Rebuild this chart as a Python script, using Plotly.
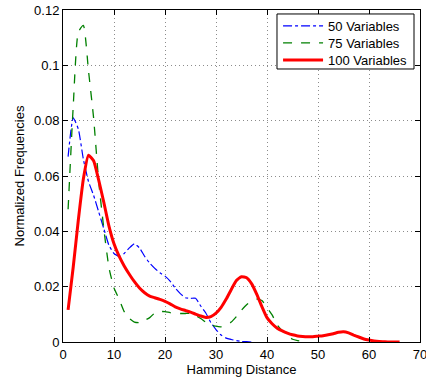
import plotly.graph_objects as go

# Data
x50 = list(range(1, 38))
y50 = [0.067, 0.081, 0.077, 0.066, 0.058, 0.053, 0.047, 0.041, 0.035, 0.032,
       0.031, 0.032, 0.034, 0.0355, 0.034, 0.031, 0.0285, 0.0266, 0.025, 0.0238,
       0.022, 0.0195, 0.0175, 0.016, 0.0158, 0.0158, 0.013, 0.0105, 0.007, 0.0045,
       0.0025, 0.0014, 0.0009, 0.0005, 0.0002, 0.0001, 0.0]

x75 = list(range(1, 49))
y75 = [0.048, 0.085, 0.112, 0.1144, 0.098, 0.081, 0.058, 0.041, 0.027, 0.0195,
       0.0155, 0.011, 0.0085, 0.0072, 0.007, 0.0078, 0.0088, 0.0105, 0.011, 0.011,
       0.0106, 0.0104, 0.0103, 0.0103, 0.0103, 0.0095, 0.0085, 0.0072, 0.0063, 0.0057,
       0.0055, 0.006, 0.0072, 0.0092, 0.0115, 0.0135, 0.0148, 0.0155, 0.015, 0.0125,
       0.0098, 0.0062, 0.004, 0.0022, 0.001, 0.0005, 0.0002, 0.0]

x100 = list(range(1, 67))
y100 = [0.0116, 0.027, 0.044, 0.059, 0.0675, 0.0655, 0.0585, 0.0505, 0.042, 0.0355,
        0.031, 0.0275, 0.0245, 0.0218, 0.0195, 0.0178, 0.0166, 0.016, 0.0154, 0.0147,
        0.0138, 0.0127, 0.012, 0.0114, 0.0108, 0.0101, 0.0094, 0.0089, 0.0092, 0.0104,
        0.0125, 0.0155, 0.019, 0.0222, 0.0236, 0.0232, 0.021, 0.0172, 0.0128, 0.0088,
        0.0066, 0.005, 0.004, 0.0032, 0.0026, 0.0022, 0.002, 0.0019, 0.0019, 0.0021,
        0.0023, 0.0026, 0.003, 0.0035, 0.0037, 0.0033, 0.0025, 0.0018, 0.0011, 0.0007,
        0.0004, 0.0002, 0.0001, 0.0, 0.0, 0.0]

series_names = ["50 Variables", "75 Variables", "100 Variables"]
x_ticks = [0, 10, 20, 30, 40, 50, 60, 70]
y_ticks = [0, 0.02, 0.04, 0.06, 0.08, 0.1, 0.12]
y_ticklabels = ["0", "0.02", "0.04", "0.06", "0.08", "0.1", "0.12"]

FONT = "Liberation Sans, Arial, Helvetica, sans-serif"

fig = go.Figure()
fig.add_trace(go.Scatter(x=x50, y=y50, mode="lines", name=series_names[0], legend="legend",
                         line=dict(color="#0000FF", width=1.2, dash="dashdot", shape="spline", smoothing=0.5)))
fig.add_trace(go.Scatter(x=x75, y=y75, mode="lines", name=series_names[1], legend="legend2",
                         line=dict(color="#008000", width=1.3, dash="dash", shape="spline", smoothing=0.5)))
fig.add_trace(go.Scatter(x=x100, y=y100, mode="lines", name=series_names[2], legend="legend3",
                         line=dict(color="#FF0000", width=3, shape="spline", smoothing=0.5)))

axis_common = dict(
    showline=True, linecolor="black", linewidth=1, mirror="allticks",
    ticks="inside", ticklen=5, tickcolor="black", tickwidth=1,
    showgrid=True, gridcolor="#8c8c8c", griddash="1px,3px", gridwidth=1,
    zeroline=False, automargin=False, ticklabeloverflow="allow",
    tickfont=dict(family=FONT, size=13, color="black"),
)

# legend box (white, black border) drawn behind transparent legends
fig.add_shape(type="rect", xref="paper", yref="paper",
              x0=0.5994, x1=0.9832, y0=0.8223, y1=0.988,
              fillcolor="white", line=dict(color="black", width=1), layer="above")

def leg(ypos):
    return dict(x=0.6024, y=ypos, xanchor="left", yanchor="middle",
                bgcolor="rgba(0,0,0,0)", borderwidth=0,
                font=dict(family=FONT, size=13, color="black"), itemwidth=40)

fig.update_layout(
    width=426, height=382,
    margin=dict(l=63, r=6, t=10, b=40),
    paper_bgcolor="white", plot_bgcolor="white",
    font=dict(family=FONT, size=13, color="black"),
    showlegend=True,
    legend=leg(0.9518), legend2=leg(0.9006), legend3=leg(0.8494),
    xaxis=dict(range=[0, 70], tickvals=x_ticks,
               title=dict(text="Hamming Distance", font=dict(family=FONT, size=13), standoff=3),
               **axis_common),
    yaxis=dict(range=[0, 0.12], tickvals=y_ticks, ticktext=y_ticklabels,
               title=dict(text="Normalized Frequencies", font=dict(family=FONT, size=13), standoff=6),
               **axis_common),
)

fig.write_html("out.html", config={"displayModeBar": False},
               post_script="document.body.style.margin='0';document.body.style.overflow='hidden';")
